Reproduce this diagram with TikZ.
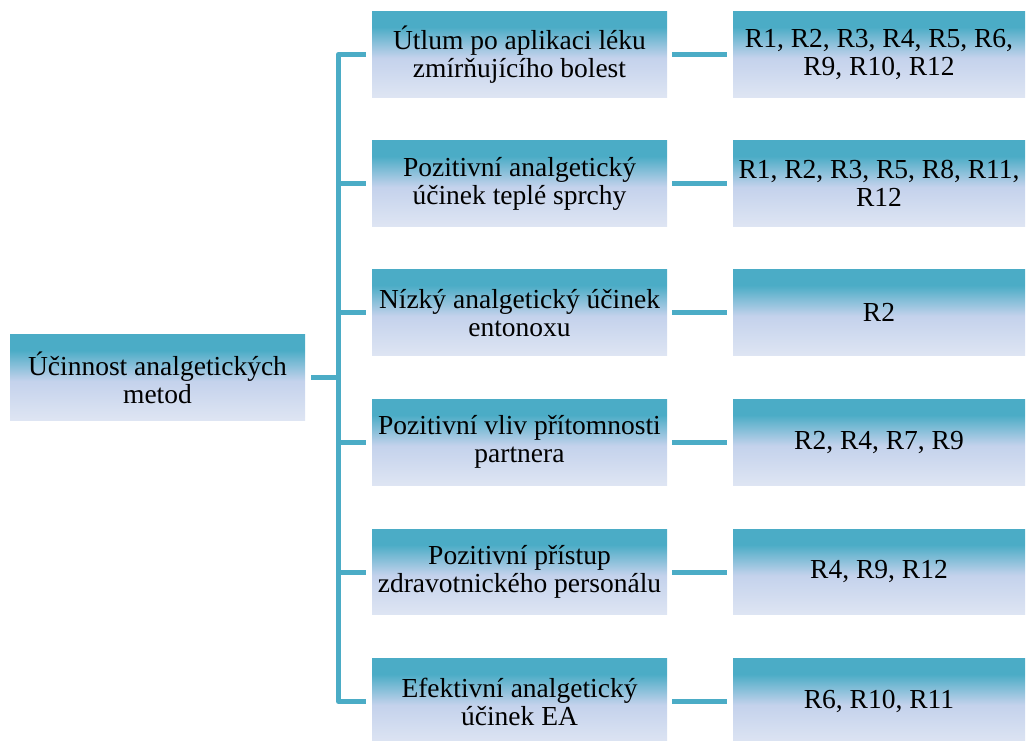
\documentclass[tikz,border=0pt]{standalone}
\usepackage{fontspec}
\setmainfont{Liberation Serif}
\definecolor{teal}{RGB}{75,172,198}
\definecolor{midblue}{RGB}{196,210,236}
\definecolor{lowblue}{RGB}{222,229,243}
\pgfdeclareverticalshading{boxgrad}{100bp}{%
  color(0bp)=(lowblue); color(25bp)=(lowblue); color(48bp)=(midblue);
  color(66bp)=(teal); color(100bp)=(teal)}
\tikzset{
  box/.style={shading=boxgrad,
    minimum width=295pt, minimum height=85.5pt, inner sep=0pt,
    align=center,
    font=\fontsize{27.5}{28}\selectfont},
  refbox/.style={box, minimum width=292pt},
  conn/.style={draw=teal, line width=5pt, line join=round}
}
\begin{document}
\begin{tikzpicture}[x=1pt,y=-1pt]
  \useasboundingbox (0,0) rectangle (1026,740);
  % root
  \node[box] (root) at (157.5,377.5) {Účinnost analgetických\\metod};
  % categories
  \node[box] (m1) at (519.5,54.3)  {Útlum po aplikaci léku\\zmírňujícího bolest};
  \node[box] (m2) at (519.5,183.5) {Pozitivní analgetický\\účinek teplé sprchy};
  \node[box] (m3) at (519.5,312.7) {Nízký analgetický účinek\\entonoxu};
  \node[box] (m4) at (519.5,442.3) {Pozitivní vliv přítomnosti\\partnera};
  \node[box] (m5) at (519.5,572.0) {Pozitivní přístup\\zdravotnického personálu};
  \node[box] (m6) at (519.5,701.5) {Efektivní analgetický\\účinek EA};
  % respondents
  \node[refbox] (r1) at (879,54.3)  {R1, R2, R3, R4, R5, R6,\\R9, R10, R12};
  \node[refbox] (r2) at (879,183.5) {R1, R2, R3, R5, R8, R11,\\R12};
  \node[refbox] (r3) at (879,312.7) {R2};
  \node[refbox] (r4) at (879,442.3) {R2, R4, R7, R9};
  \node[refbox] (r5) at (879,572.0) {R4, R9, R12};
  \node[refbox] (r6) at (879,701.5) {R6, R10, R11};
  % tree connectors
  \coordinate (trunk) at (338.5,0);
  \draw[conn] ([xshift=6pt]root.east) -- (trunk |- root.east);
  \draw[conn] ([xshift=-6pt]m1.west) -| (trunk |- m1.west) -- (trunk |- m6.west) -- ([xshift=-6pt]m6.west);
  \foreach \i in {2,...,5}
    \draw[conn] (trunk |- m\i.west) -- ([xshift=-6pt]m\i.west);
  \foreach \i in {1,...,6}
    \draw[conn] ([xshift=5pt]m\i.east) -- ([xshift=-6pt]r\i.west);
\end{tikzpicture}
\end{document}
